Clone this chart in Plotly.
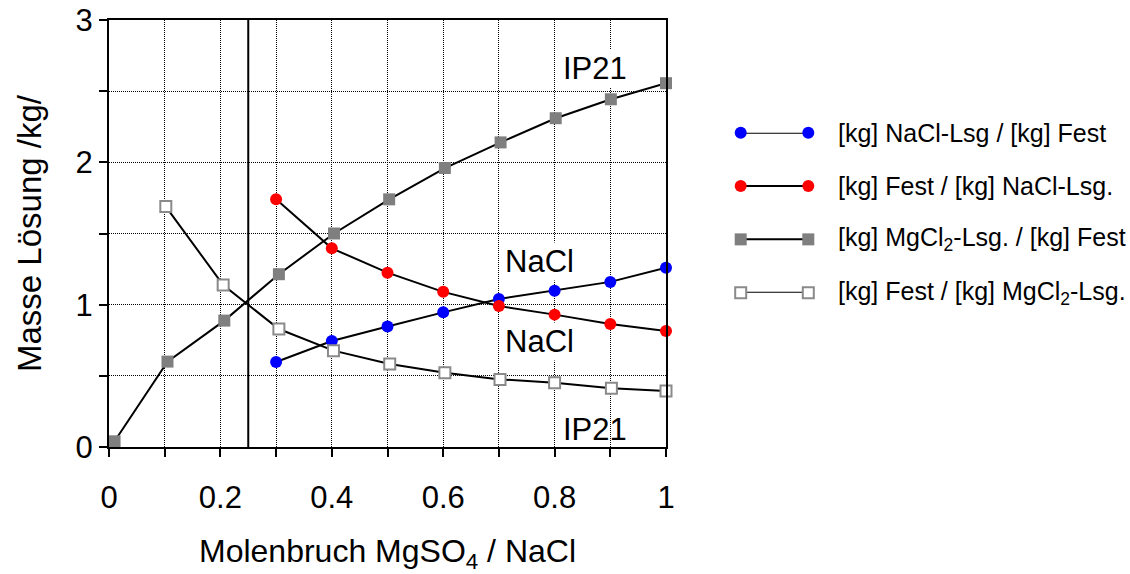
import plotly.graph_objects as go

# ---- data ----
x_mgcl2 = [0.01, 0.105, 0.207, 0.305, 0.404, 0.503, 0.603, 0.703, 0.802, 0.901, 1.0]
mgcl2_lsg_per_fest = [0.04, 0.60, 0.888, 1.214, 1.50, 1.74, 1.96, 2.14, 2.31, 2.443, 2.556]

x_open = [0.102, 0.205, 0.305, 0.403, 0.504, 0.603, 0.702, 0.8, 0.902, 1.0]
fest_per_mgcl2_lsg = [1.689, 1.138, 0.829, 0.677, 0.583, 0.521, 0.475, 0.452, 0.412, 0.394]

x_nacl = [0.3, 0.4, 0.5, 0.6, 0.7, 0.8, 0.9, 1.0]
fest_per_nacl_lsg = [1.74, 1.396, 1.225, 1.09, 0.99, 0.93, 0.864, 0.815]
nacl_lsg_per_fest = [0.597, 0.745, 0.846, 0.946, 1.04, 1.098, 1.16, 1.26]

x_ticks = [0, 0.2, 0.4, 0.6, 0.8, 1.0]
x_ticktext = ["0", "0.2", "0.4", "0.6", "0.8", "1"]
x_minor_step = 0.1
y_ticks = [0, 1, 2, 3]
y_ticktext = ["0", "1", "2", "3"]
y_minor_step = 0.5

x_divider = 0.25

legend_names = [
    "[kg] NaCl-Lsg / [kg] Fest",
    "[kg] Fest / [kg] NaCl-Lsg.",
    "[kg] MgCl<sub>2</sub>-Lsg. / [kg] Fest",
    "[kg] Fest / [kg] MgCl<sub>2</sub>-Lsg.",
]
legend_rows = [0, 1, 2, 3]

# label text, x, y, white background
labels = [("IP21", 0.873, 2.66, True), ("NaCl", 0.772, 1.30, True),
          ("NaCl", 0.772, 0.74, True), ("IP21", 0.873, 0.12, False)]

FONT = "Liberation Sans, Arial, sans-serif"
W, H = 1130, 574
ML, MR, MT, MB = 109, 0, 20, 127
PW = W - ML - MR
PH = H - MT - MB
plot_right = 666

styles = [
    dict(symbol="circle", size=12, color="#0000ff"),
    dict(symbol="circle", size=12, color="#ff0000"),
    dict(symbol="square", size=12, color="#7f7f7f"),
    dict(symbol="square", size=11, color="#ffffff", line=dict(color="#8a8a8a", width=2)),
]
line_style = dict(color="black", width=2)

fig = go.Figure()
series = [
    (x_nacl, nacl_lsg_per_fest),
    (x_nacl, fest_per_nacl_lsg),
    (x_mgcl2, mgcl2_lsg_per_fest),
    (x_open, fest_per_mgcl2_lsg),
]
for (xs, ys), mk, name in zip(series, styles, legend_names):
    fig.add_trace(go.Scatter(x=xs, y=ys, mode="lines+markers", line=line_style,
                             marker=mk, name=name, showlegend=False, cliponaxis=False))

# legend drawn on a helper axis pair
for row, mk, name in zip(legend_rows, styles, legend_names):
    fig.add_trace(go.Scatter(x=[0, 1], y=[row, row], mode="lines+markers",
                             line=dict(color="black", width=2), marker=mk,
                             xaxis="x2", yaxis="y2", showlegend=False, cliponaxis=False,
                             hoverinfo="skip"))
    fig.add_annotation(x=1, y=row, xref="x2", yref="y2", text=name, showarrow=False,
                       xanchor="left", xshift=28, font=dict(family=FONT, size=25, color="black"))

for txt, lx, ly, bg in labels:
    fig.add_annotation(x=lx, y=ly, xref="x", yref="y", text=txt, showarrow=False,
                       bgcolor="white" if bg else "rgba(0,0,0,0)",
                       font=dict(family=FONT, size=31, color="black"))

fig.add_shape(type="line", x0=x_divider, x1=x_divider, y0=0, y1=3, xref="x", yref="y",
              line=dict(color="black", width=2), layer="below")

leg_l = (740.7 - ML) / PW
leg_r = (808.3 - ML) / PW
leg_b = (447 - 292.7) / PH
leg_t = (447 - 132.7) / PH

grid = dict(showgrid=True, gridcolor="black", gridwidth=1, griddash="1px,1px")
minor_common = dict(ticks="outside", ticklen=8, tickwidth=2, tickcolor="black",
                    showgrid=True, gridcolor="black", gridwidth=1, griddash="1px,1px")

fig.update_layout(
    width=W, height=H,
    margin=dict(l=ML, r=MR, t=MT, b=MB, pad=0, autoexpand=False),
    paper_bgcolor="white", plot_bgcolor="white",
    font=dict(family=FONT, color="black"),
    xaxis=dict(domain=[0, (plot_right - ML) / PW], range=[0, 1], tickmode="array",
               tickvals=x_ticks, ticktext=x_ticktext,
               ticks="outside", ticklen=8, tickwidth=2, tickcolor="black",
               minor=dict(dtick=x_minor_step, tick0=0, **minor_common),
               showline=True, linewidth=2, linecolor="black", mirror=True, **grid,
               zeroline=False, automargin=False,
               tickfont=dict(size=31, family=FONT), ticklabelstandoff=14,
               title=dict(text="Molenbruch MgSO<sub>4</sub> / NaCl", font=dict(size=32, family=FONT), standoff=36)),
    yaxis=dict(range=[0, 3], tickmode="array", tickvals=y_ticks, ticktext=y_ticktext,
               ticks="outside", ticklen=8, tickwidth=2, tickcolor="black",
               minor=dict(dtick=y_minor_step, tick0=0, **minor_common),
               showline=True, linewidth=2, linecolor="black", mirror=True, **grid,
               zeroline=False, automargin=False,
               tickfont=dict(size=31, family=FONT), ticklabelstandoff=0,
               title=dict(text="Masse Lösung /kg/", font=dict(size=33, family=FONT), standoff=24)),
    xaxis2=dict(domain=[leg_l, leg_r], range=[0, 1], visible=False, anchor="y2"),
    yaxis2=dict(domain=[leg_b, leg_t], range=[3, 0], visible=False, anchor="x2"),
)

fig.write_html("out.html")
